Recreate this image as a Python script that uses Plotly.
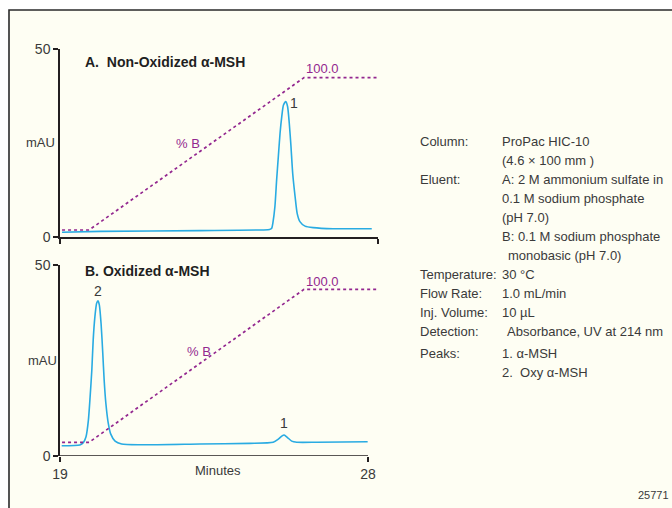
import plotly.graph_objects as go

W, H = 672, 508

# ---- data ----
# Panel A: non-oxidized alpha-MSH chromatogram (minutes, mAU)
a_time = [19.06, 20.17, 23.09, 25.08, 25.15, 25.19, 25.22, 25.28, 25.33, 25.38, 25.43, 25.48,
          25.53, 25.60, 25.65, 25.70, 25.75, 25.80, 25.87, 25.93, 26.01, 26.16, 26.40, 26.98, 28.11]
a_mau = [1.25, 1.5, 1.7, 1.95, 2.1, 2.4, 3.7, 8.1, 15.2, 21.4, 27.6, 32.0,
         35.1, 36.0, 34.7, 30.2, 24.0, 16.9, 10.7, 6.3, 4.1, 2.9, 2.5, 2.2, 2.2]

# Panel B: oxidized alpha-MSH chromatogram (minutes, mAU)
b_time = [19.05, 19.58, 19.68, 19.76, 19.83, 19.88, 19.93, 19.97, 20.02, 20.07, 20.11, 20.15,
          20.20, 20.25, 20.29, 20.34, 20.41, 20.48, 20.61, 20.80, 21.34, 23.09, 24.55, 25.23,
          25.38, 25.48, 25.55, 25.64, 25.77, 25.92, 26.50, 27.99]
b_mau = [2.7, 2.9, 3.5, 5.05, 9.4, 15.5, 22.5, 30.4, 36.5, 40.0, 40.65, 39.5,
         34.7, 26.9, 19.9, 13.8, 8.6, 5.8, 3.9, 3.15, 2.95, 3.15, 3.3, 3.6,
         4.4, 5.2, 5.5, 4.9, 3.9, 3.6, 3.6, 3.75]

# Gradient (% B)
grad_time = [19.06, 19.85, 26.13, 28.26]
grad_b = [0, 0, 100, 100]

# Axis ticks
x_ticks = [19, 28]
y_ticks = [0, 50]

# Condition table
cond_labels = ["Column:", "", "Eluent:", "", "", "", "", "Temperature:", "Flow Rate:",
               "Inj. Volume:", "Detection:", "Peaks:", ""]
cond_values = ["ProPac HIC-10", "(4.6 × 100 mm )", "A: 2 M ammonium sulfate in",
               "0.1 M sodium phosphate", "(pH 7.0)", "B: 0.1 M sodium phosphate",
               "monobasic (pH 7.0)", "30 °C", "1.0 mL/min", "10 µL",
               "Absorbance, UV at 214 nm", "1. α-MSH", "2.\u00a0 Oxy α-MSH"]
cond_rows_y = [141.7, 160.5, 179.3, 198.3, 217.3, 236.5, 255.5, 274.5, 293.5, 312.5, 331.2, 353.3, 372.3]
cond_value_x = [500, 500, 500, 500, 500, 500, 506, 500, 500, 500, 505, 500, 500]

# ---- styling ----
FONT = "Liberation Sans, Arial, Helvetica, sans-serif"
TXT = "#3a3a3a"
BLUE = "#29ABE2"
PURPLE = "#93278F"
BG = "#FEFEF3"
AX = "#231F20"


def px(x):
    return x / W


def py(y):
    return 1 - y / H


xdom = [px(60), px(378)]
xrange = [19, 19 + 318 / (308 / 9)]

fig = go.Figure()

fig.add_trace(go.Scatter(x=a_time, y=a_mau, mode="lines", xaxis="x", yaxis="y",
                         line=dict(color=BLUE, width=1.6, shape="spline", smoothing=0.6),
                         hoverinfo="skip", showlegend=False))
fig.add_trace(go.Scatter(x=grad_time, y=grad_b, mode="lines", xaxis="x", yaxis="y3",
                         line=dict(color=PURPLE, width=1.7, dash="dot"),
                         hoverinfo="skip", showlegend=False))
fig.add_trace(go.Scatter(x=b_time, y=b_mau, mode="lines", xaxis="x2", yaxis="y2",
                         line=dict(color=BLUE, width=1.6, shape="spline", smoothing=0.6),
                         hoverinfo="skip", showlegend=False))
fig.add_trace(go.Scatter(x=grad_time, y=grad_b, mode="lines", xaxis="x2", yaxis="y4",
                         line=dict(color=PURPLE, width=1.7, dash="dot"),
                         hoverinfo="skip", showlegend=False))

axis_common = dict(showgrid=False, zeroline=False, ticks="outside", ticklen=5,
                   tickwidth=1.5, tickcolor=AX, linecolor=AX, linewidth=1.5, automargin=False,
                   tickfont=dict(family=FONT, size=14, color=TXT))

fig.update_layout(
    width=W, height=H,
    margin=dict(l=0, r=0, t=0, b=0, pad=0, autoexpand=False),
    paper_bgcolor="white", plot_bgcolor="rgba(0,0,0,0)",
    showlegend=False,
    xaxis=dict(domain=xdom, range=xrange, anchor="y", showline=True,
               tickvals=[xrange[0], xrange[1]], showticklabels=False, **axis_common),
    yaxis=dict(domain=[py(237), py(49)], range=[0, 50], anchor="x", showline=True,
               tickvals=y_ticks, **axis_common),
    xaxis2=dict(domain=xdom, range=xrange, anchor="y2", showline=False,
                tickvals=x_ticks, **axis_common),
    yaxis2=dict(domain=[py(456), py(265)], range=[0, 50], anchor="x2", showline=True,
                tickvals=y_ticks, **axis_common),
    yaxis3=dict(overlaying="y", range=[-4.59, 118.8], visible=False, automargin=False),
    yaxis4=dict(overlaying="y2", range=[-8.95, 115.9], visible=False, automargin=False),
)

shapes = [
    dict(type="rect", xref="paper", yref="paper", x0=px(9), x1=1.05, y0=-0.05, y1=py(10),
         line=dict(color="#2a2a2a", width=1.6), fillcolor=BG, layer="below"),
    dict(type="line", xref="x2", yref="y2", x0=x_ticks[0], x1=x_ticks[1], y0=0, y1=0,
         line=dict(color=AX, width=1.5)),
]
fig.update_layout(shapes=shapes)

ann = []


def text(x, y, s, size=13, color=TXT, xanchor="center", bold=False):
    ann.append(dict(x=px(x), y=py(y), xref="paper", yref="paper", text=(f"<b>{s}</b>" if bold else s),
                    showarrow=False, xanchor=xanchor, yanchor="middle",
                    font=dict(family=FONT, size=size, color=color)))


# panel titles
text(83, 61.5, "A.\u00a0 Non-Oxidized α-MSH", size=14, color="#1f1f1f", xanchor="left", bold=True)
text(83, 270.5, "B. Oxidized α-MSH", size=14, color="#1f1f1f", xanchor="left", bold=True)
# y axis titles
text(40, 143, "mAU")
text(42, 360, "mAU")
# x axis title
text(218, 470, "Minutes")
# peak labels
text(294, 103, "1", size=14)
text(98, 291, "2", size=14)
text(284, 423, "1", size=14)
# gradient labels
text(322, 69, "100.0", color=PURPLE)
text(188, 143.5, "% B", color=PURPLE)
text(322, 281, "100.0", color=PURPLE)
text(199, 351, "% B", color=PURPLE)

# conditions table
for lab, val, yy, vx in zip(cond_labels, cond_values, cond_rows_y, cond_value_x):
    if lab:
        text(418, yy, lab, xanchor="left")
    text(vx, yy, val, xanchor="left")

text(671, 495, "25771", size=11, xanchor="right")

fig.update_layout(annotations=ann)

fig.write_html("out.html", config={"displayModeBar": False},
               post_script="document.body.style.margin='0';document.body.style.padding='0';")
